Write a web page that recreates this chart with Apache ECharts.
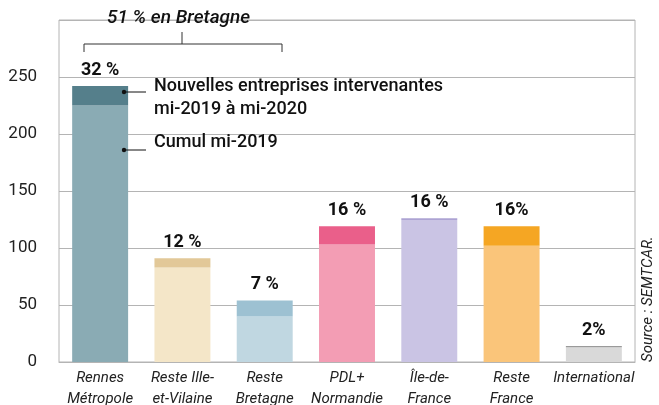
<!DOCTYPE html>
<html>
	<head>
		<meta charset="UTF-8">
		<title>Entreprises intervenantes</title>
		<style type="text/css">
			html,body{
				margin: 0;
				padding: 0;
				width: 100%;
				height: 100%;
				background: #fff;
			}
			#main{
				width: 659px;
				height: 405px;
			}
		</style>
	</head>
	<body>
		<div id="main"></div>
		<script src="https://cdn.jsdelivr.net/npm/echarts@6/dist/echarts.min.js"></script>
		<script>
			var categories = ['Rennes\nMétropole', 'Reste Ille-\net-Vilaine', 'Reste\nBretagne', 'PDL+\nNormandie', 'Île-de-\nFrance', 'Reste\nFrance', 'International'];
			var cumul = [225, 83, 40, 103, 124.5, 102, 13];
			var nouvelles = [17, 8, 14, 16, 1.5, 17, 1];
			var parts = ['32 %', '12 %', '7 %', '16 %', '16 %', '16%', '2%'];
			var lightColors = ['#8aabb4', '#f4e6c8', '#c0d7e1', '#f39db4', '#cac4e4', '#fac57a', '#d9d9d9'];
			var darkColors = ['#557f8b', '#e2c898', '#9dc1d2', '#ea5f8a', '#ada3d3', '#f5a623', '#9a9a9a'];
			var yTicks = [0, 50, 100, 150, 200, 250];

			var font = 'Roboto, sans-serif';
			var myChart = echarts.init(document.getElementById('main'));

			myChart.setOption({
				backgroundColor: '#fff',
				animation: false,
				grid: {
					left: 59, right: 24, top: 20, bottom: 43,
					outerBoundsMode: 'none',
					show: true, borderColor: '#b4b4b4', borderWidth: 1
				},
				xAxis: {
					type: 'category',
					data: categories,
					axisLine: { lineStyle: { color: '#b4b4b4', width: 1 } },
					axisTick: { show: false },
					axisLabel: {
						fontFamily: font, fontStyle: 'italic', fontSize: 15,
						color: '#222', lineHeight: 21, margin: 6, interval: 0
					}
				},
				yAxis: {
					type: 'value',
					min: 0, max: 300, interval: 50,
					axisLine: { show: false },
					axisTick: { show: false },
					splitLine: { lineStyle: { color: '#b4b4b4', width: 1 } },
					axisLabel: {
						fontFamily: font, fontSize: 17, color: '#222', margin: 22,
						formatter: function (v) { return yTicks.indexOf(v) >= 0 ? String(v) : ''; }
					}
				},
				series: [
					{
						name: 'Cumul mi-2019',
						type: 'bar',
						stack: 'total',
						barWidth: '68%',
						data: cumul.map(function (v, i) {
							return { value: v, itemStyle: { color: lightColors[i] } };
						})
					},
					{
						name: 'Nouvelles entreprises intervenantes mi-2019 à mi-2020',
						type: 'bar',
						stack: 'total',
						barWidth: '68%',
						data: nouvelles.map(function (v, i) {
							return { value: v, itemStyle: { color: darkColors[i] } };
						}),
						label: {
							show: true,
							position: 'top',
							distance: 7,
							fontFamily: font, fontWeight: 'bold', fontSize: 18, color: '#111',
							formatter: function (p) { return parts[p.dataIndex]; }
						}
					}
				],
				graphic: [
					{ type: 'text', z: 100, left: 107, top: 9, style: { text: '51 % en Bretagne', font: 'italic 500 19px ' + font, fill: '#111' } },
					{ type: 'polyline', z: 100, shape: { points: [[84, 52], [84, 44], [282, 44], [282, 52]] }, style: { stroke: '#333', lineWidth: 1, fill: null } },
					{ type: 'line', z: 100, shape: { x1: 182, y1: 32, x2: 182, y2: 44 }, style: { stroke: '#333', lineWidth: 1 } },
					{ type: 'circle', z: 100, shape: { cx: 124, cy: 92, r: 2.2 }, style: { fill: '#111' } },
					{ type: 'line', z: 100, shape: { x1: 124, y1: 92, x2: 146, y2: 92 }, style: { stroke: '#111', lineWidth: 1 } },
					{ type: 'circle', z: 100, shape: { cx: 124, cy: 150, r: 2.2 }, style: { fill: '#111' } },
					{ type: 'line', z: 100, shape: { x1: 124, y1: 150, x2: 146, y2: 150 }, style: { stroke: '#111', lineWidth: 1 } },
					{ type: 'text', z: 100, left: 154, top: 75, style: { text: 'Nouvelles entreprises intervenantes\nmi-2019 à mi-2020', font: '500 18px ' + font, lineHeight: 23, fill: '#111' } },
					{ type: 'text', z: 100, left: 154, top: 133, style: { text: 'Cumul mi-2019', font: '500 18px ' + font, fill: '#111' } },
					{ type: 'text', z: 100, x: 656, y: 362, rotation: Math.PI / 2, style: { text: 'Source : SEMTCAR.', font: 'italic 15px ' + font, fill: '#222', align: 'left', verticalAlign: 'bottom' } }
				]
			});
		</script>
	</body>
</html>
